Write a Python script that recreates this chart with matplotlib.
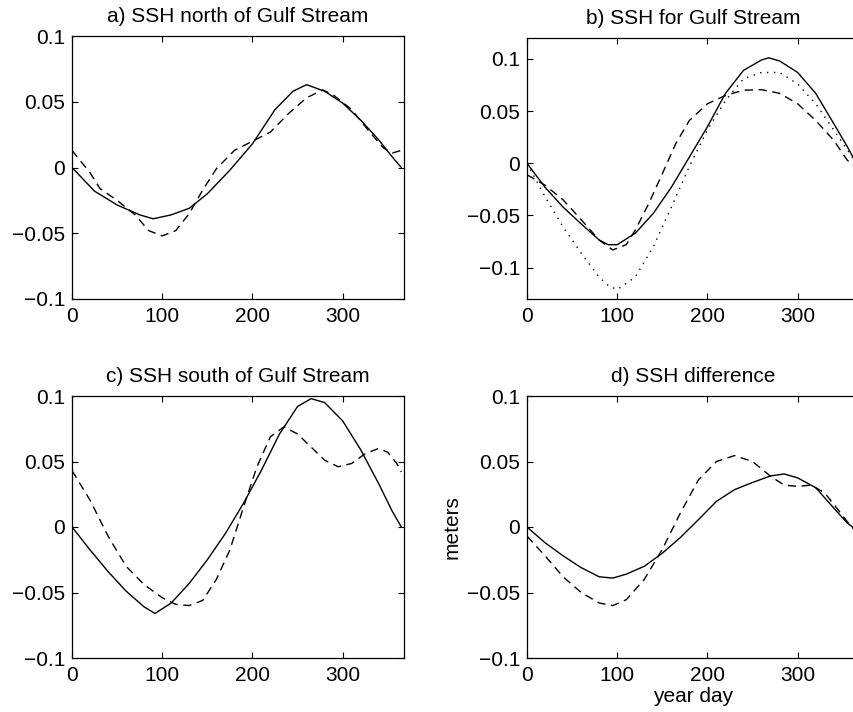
import matplotlib
matplotlib.use('Agg')
import matplotlib.pyplot as plt

plt.rcParams['font.family'] = ['Liberation Sans', 'DejaVu Sans']

# panel a) north of Gulf Stream
day_a_solid = [0, 25, 50, 75, 90, 110, 130, 150, 175, 200, 225, 245, 260, 280, 300, 320, 340, 355, 365]
ssh_a_solid = [0, -0.018, -0.0285, -0.036, -0.039, -0.036, -0.031, -0.020, -0.002, 0.018, 0.044,
               0.058, 0.063, 0.058, 0.049, 0.036, 0.021, 0.008, 0]
day_a_dash = [0, 20, 31, 50, 70, 85, 100, 115, 130, 145, 160, 180, 200, 220, 240, 260, 278, 290,
              310, 330, 345, 355, 365]
ssh_a_dash = [0.013, -0.004, -0.016, -0.025, -0.036, -0.048, -0.052, -0.048, -0.035, -0.017, -0.001,
              0.013, 0.020, 0.027, 0.041, 0.053, 0.059, 0.055, 0.044, 0.027, 0.015, 0.011, 0.013]

# panel b) Gulf Stream
day_b = [0, 20, 40, 60, 80, 90, 100, 120, 140, 160, 180, 200, 220, 240, 260, 268, 280, 300, 320,
         340, 355, 365]
ssh_b_solid = [0, -0.023, -0.042, -0.058, -0.0735, -0.078, -0.078, -0.067, -0.048, -0.023, 0.006,
               0.035, 0.067, 0.089, 0.099, 0.101, 0.098, 0.087, 0.067, 0.038, 0.016, 0]
ssh_b_dot = [0, -0.032, -0.061, -0.086, -0.109, -0.117, -0.121, -0.109, -0.080, -0.042, -0.003,
             0.032, 0.060, 0.081, 0.087, 0.087, 0.087, 0.076, 0.057, 0.032, 0.013, 0]
day_b_dash = [0, 20, 40, 60, 80, 95, 110, 120, 135, 150, 165, 180, 200, 220, 240, 260, 280, 300,
              320, 340, 355, 365]
ssh_b_dash = [-0.011, -0.021, -0.035, -0.054, -0.0735, -0.083, -0.078, -0.064, -0.0385, -0.010,
              0.019, 0.041, 0.057, 0.065, 0.070, 0.0705, 0.067, 0.057, 0.041, 0.022, 0.003, -0.004]

# panel c) south of Gulf Stream
day_c_solid = [0, 20, 40, 60, 80, 92, 110, 130, 150, 170, 190, 210, 230, 250, 265, 280, 300, 320,
               340, 355, 365]
ssh_c_solid = [0, -0.0175, -0.034, -0.049, -0.061, -0.066, -0.058, -0.043, -0.025, -0.005, 0.018,
               0.0434, 0.071, 0.092, 0.098, 0.095, 0.081, 0.059, 0.033, 0.012, 0]
day_c_dash = [0, 20, 40, 60, 80, 100, 115, 130, 145, 160, 175, 190, 205, 220, 235, 250, 265, 280,
              295, 310, 325, 340, 350, 360, 365]
ssh_c_dash = [0.043, 0.0205, -0.007, -0.030, -0.044, -0.054, -0.059, -0.060, -0.056, -0.040,
              -0.0175, 0.015, 0.046, 0.069, 0.0765, 0.071, 0.061, 0.051, 0.046, 0.0485, 0.056,
              0.060, 0.057, 0.0485, 0.042]

# panel d) difference
day_d = [0, 20, 40, 60, 80, 95, 110, 130, 150, 170, 190, 210, 230, 250, 270, 285, 300, 320, 340,
         355, 365]
ssh_d_solid = [0, -0.012, -0.022, -0.031, -0.038, -0.039, -0.036, -0.030, -0.020, -0.008, 0.0056,
               0.0196, 0.0285, 0.034, 0.039, 0.0405, 0.0375, 0.030, 0.0145, 0.003, -0.002]
day_d_dash = [0, 20, 40, 60, 80, 95, 110, 130, 150, 170, 190, 210, 230, 250, 270, 285, 300, 315,
              330, 345, 355, 365]
ssh_d_dash = [-0.007, -0.022, -0.038, -0.050, -0.058, -0.060, -0.0555, -0.040, -0.017, 0.0107,
              0.036, 0.050, 0.0545, 0.050, 0.0387, 0.032, 0.031, 0.032, 0.026, 0.013, 0.004, -0.004]

titles = ['a) SSH north of Gulf Stream', 'b) SSH for Gulf Stream',
          'c) SSH south of Gulf Stream', 'd) SSH difference']
xticks = [0, 100, 200, 300]

fig = plt.figure(figsize=(8.54, 7.12), dpi=100)
W, H = 854, 712


def make_axes(left, top, right, bottom):
    return fig.add_axes([left / W, 1 - bottom / H, (right - left) / W, (bottom - top) / H])


ax_a = make_axes(72, 36, 404, 299)
ax_b = make_axes(527, 38, 859, 299)
ax_c = make_axes(72, 396, 404, 658)
ax_d = make_axes(527, 396, 859, 658)

lw = 1.0
dash = (0, (6, 4))
ax_a.plot(day_a_solid, ssh_a_solid, 'k-', lw=lw)
ax_a.plot(day_a_dash, ssh_a_dash, color='k', lw=lw, linestyle=dash)

ax_b.plot(day_b, ssh_b_solid, 'k-', lw=lw)
ax_b.plot(day_b, ssh_b_dot, color='k', lw=1.0, linestyle=(0, (1, 4)))
ax_b.plot(day_b_dash, ssh_b_dash, color='k', lw=lw, linestyle=dash)

ax_c.plot(day_c_solid, ssh_c_solid, 'k-', lw=lw)
ax_c.plot(day_c_dash, ssh_c_dash, color='k', lw=lw, linestyle=dash)

ax_d.plot(day_d, ssh_d_solid, 'k-', lw=lw)
ax_d.plot(day_d_dash, ssh_d_dash, color='k', lw=lw, linestyle=dash)

for ax, t in zip([ax_a, ax_b, ax_c, ax_d], titles):
    ax.set_xlim(0, 368)
    ax.set_ylim(-0.1, 0.1)
    ax.set_xticks(xticks)
    ax.set_yticks([-0.1, -0.05, 0, 0.05, 0.1])
    ax.set_yticklabels(['\u22120.1', '\u22120.05', '0', '0.05', '0.1'])
    ax.tick_params(direction='in', top=True, right=True, labelsize=15, length=4, width=0.8)
    ax.tick_params(axis='x', pad=6)
    ax.tick_params(axis='y', pad=5)
    ax.set_title(t, fontsize=15, pad=10)
    for s in ax.spines.values():
        s.set_linewidth(0.9)

ax_b.set_ylim(-0.13, 0.12)
ax_d.set_ylabel('meters', fontsize=15, labelpad=4)
ax_d.set_xlabel('year day', fontsize=15, labelpad=1)

fig.savefig('out.png', dpi=100)
